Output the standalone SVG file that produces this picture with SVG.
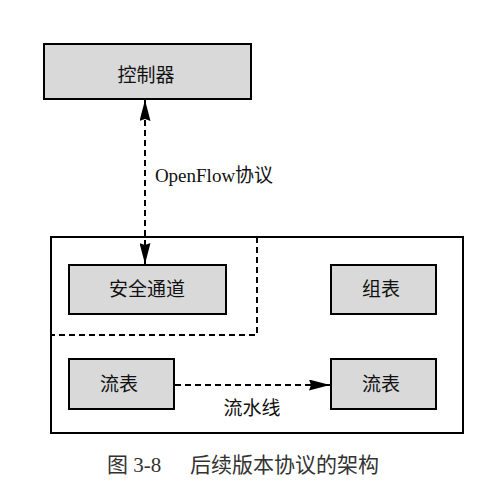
<svg xmlns="http://www.w3.org/2000/svg" width="492" height="486" viewBox="0 0 492 486">
<defs>
<style>
.box{fill:#d9d9d9;stroke:#000;stroke-width:2}
.t{font-family:"Liberation Serif","Noto Sans CJK SC",serif;font-size:19px;fill:#111;text-anchor:middle;dominant-baseline:central}
.dash{fill:none;stroke:#000;stroke-width:2;stroke-dasharray:6,4}
.cap{font-family:"Liberation Serif","Noto Sans CJK SC",serif;font-size:21px;fill:#333}
</style>
<marker id="ah" viewBox="0 0 21 11" refX="21" refY="5.5" markerWidth="21" markerHeight="11" markerUnits="userSpaceOnUse" orient="auto-start-reverse">
<path d="M0,0 L21,5.5 L0,11 L2,5.5 Z" fill="#000"/>
</marker>
</defs>
<rect width="492" height="486" fill="#fff"/>
<g id="switch">
<rect x="51" y="237" width="412" height="196" fill="none" stroke="#000" stroke-width="2"/>
<path class="dash" d="M257,237 V335 H51"/>
</g>
<g id="controller">
<rect class="box" x="44" y="44" width="207" height="55"/>
<text class="t" x="146" y="75">控制器</text>
</g>
<g id="secure-channel">
<rect class="box" x="69" y="265" width="157" height="49"/>
<text class="t" x="147" y="289">安全通道</text>
</g>
<g id="group-table">
<rect class="box" x="331" y="265" width="105" height="49"/>
<text class="t" x="381" y="289">组表</text>
</g>
<g id="flow-table-1">
<rect class="box" x="69" y="359" width="105" height="50"/>
<text class="t" x="119" y="384">流表</text>
</g>
<g id="flow-table-2">
<rect class="box" x="331" y="359" width="105" height="50"/>
<text class="t" x="381" y="384">流表</text>
</g>
<g id="connectors">
<line class="dash" x1="145" y1="100" x2="145" y2="264" marker-start="url(#ah)" marker-end="url(#ah)"/>
<text class="t" x="214" y="175">OpenFlow协议</text>
<line class="dash" x1="175" y1="385" x2="330" y2="385" marker-end="url(#ah)"/>
<text class="t" x="252" y="408">流水线</text>
</g>
<text class="cap" x="107" y="472">图 3-8</text>
<text class="cap" x="190" y="472">后续版本协议的架构</text>
</svg>
